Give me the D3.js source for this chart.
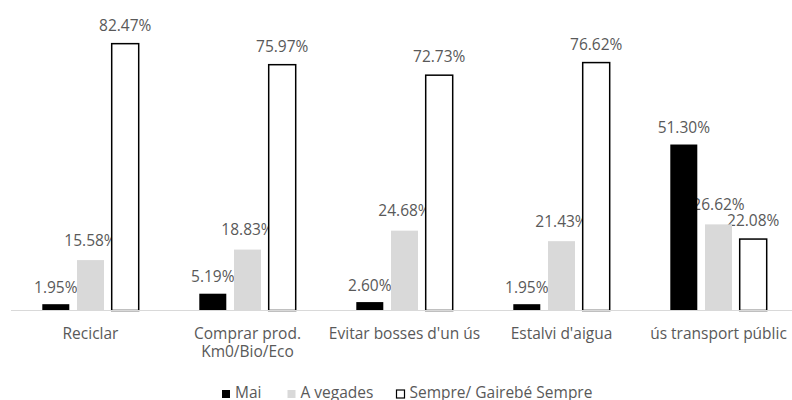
<!DOCTYPE html>
<html>
<head>
<meta charset="utf-8">
<script src="https://cdn.jsdelivr.net/npm/d3@7"></script>
<style>
  html, body { margin: 0; padding: 0; background: #fff; }
  svg text { font-family: "Open Sans", "Noto Sans", sans-serif; fill: #595959; }
</style>
</head>
<body>
<svg id="chart" width="792" height="400"></svg>
<script>
// Categories (multi-line labels split with \n)
const categories = ["Reciclar", "Comprar prod.\nKm0/Bio/Eco", "Evitar bosses d'un ús", "Estalvi d'aigua", "ús transport públic"];
const seriesNames = ["Mai", "A vegades", "Sempre/ Gairebé Sempre"];

// Percentages per series
const mai      = [1.95, 5.19, 2.60, 1.95, 51.30];
const aVegades = [15.58, 18.83, 24.68, 21.43, 26.62];
const sempre   = [82.47, 75.97, 72.73, 76.62, 22.08];

const seriesValues = [mai, aVegades, sempre];
const fills   = ["#000000", "#d9d9d9", "#ffffff"];
const strokes = [null, null, "#000000"];
const labelGap = [11.5, 14.5, 13];

const svg = d3.select("#chart");
const baseY = 310.5;

const x0 = d3.scaleBand().domain(d3.range(categories.length)).range([12, 797]).paddingInner(0).paddingOuter(0);
const half = x0.bandwidth() / 2;
const x1 = d3.scaleBand().domain(d3.range(seriesNames.length)).range([half - 48.2, half + 48.2]).paddingInner(0.222).paddingOuter(0);
const y = d3.scaleLinear().domain([0, 90]).range([baseY, 19.3]);

// flattened records
const records = [];
seriesValues.forEach((vals, s) => vals.forEach((v, c) => records.push({ s, c, v })));

// Value labels (drawn beneath the bars)
svg.append("g").selectAll("text")
  .data(records)
  .join("text")
  .attr("x", d => x0(d.c) + x1(d.s) + x1.bandwidth() / 2)
  .attr("y", d => y(d.v) - labelGap[d.s])
  .attr("text-anchor", "middle")
  .attr("font-size", "15.5px")
  .text(d => d.v.toFixed(2) + "%");

// Bars
svg.append("g").selectAll("rect")
  .data(records)
  .join("rect")
  .attr("x", d => x0(d.c) + x1(d.s))
  .attr("y", d => y(d.v))
  .attr("width", x1.bandwidth())
  .attr("height", d => baseY - y(d.v))
  .attr("fill", d => fills[d.s])
  .attr("stroke", d => strokes[d.s])
  .attr("stroke-width", d => strokes[d.s] ? 1.5 : 0);

// Category axis line
svg.append("line")
  .attr("x1", 11).attr("x2", 792)
  .attr("y1", baseY).attr("y2", baseY)
  .attr("stroke", "#d9d9d9").attr("stroke-width", 1);

// Category labels
const catG = svg.append("g").selectAll("text")
  .data(categories)
  .join("text")
  .attr("text-anchor", "middle")
  .attr("font-size", "15.5px")
  .attr("transform", (d, i) => `translate(${x0(i) + half},339)`);
catG.selectAll("tspan")
  .data(d => d.split("\n"))
  .join("tspan")
  .attr("x", 0)
  .attr("y", (d, i) => i * 17.5)
  .text(d => d);

// Legend
const legendX = [222, 287.5, 396.5];
const legend = svg.append("g").selectAll("g")
  .data(seriesNames)
  .join("g")
  .attr("transform", (d, i) => `translate(${legendX[i]},390)`);
legend.append("rect")
  .attr("width", 8).attr("height", 8)
  .attr("x", 0).attr("y", 0)
  .attr("fill", (d, i) => fills[i])
  .attr("stroke", (d, i) => strokes[i])
  .attr("stroke-width", (d, i) => strokes[i] ? 1.2 : 0);
legend.append("text")
  .attr("x", 13).attr("y", 8.3)
  .attr("font-size", "15.5px")
  .text(d => d);
</script>
</body>
</html>
